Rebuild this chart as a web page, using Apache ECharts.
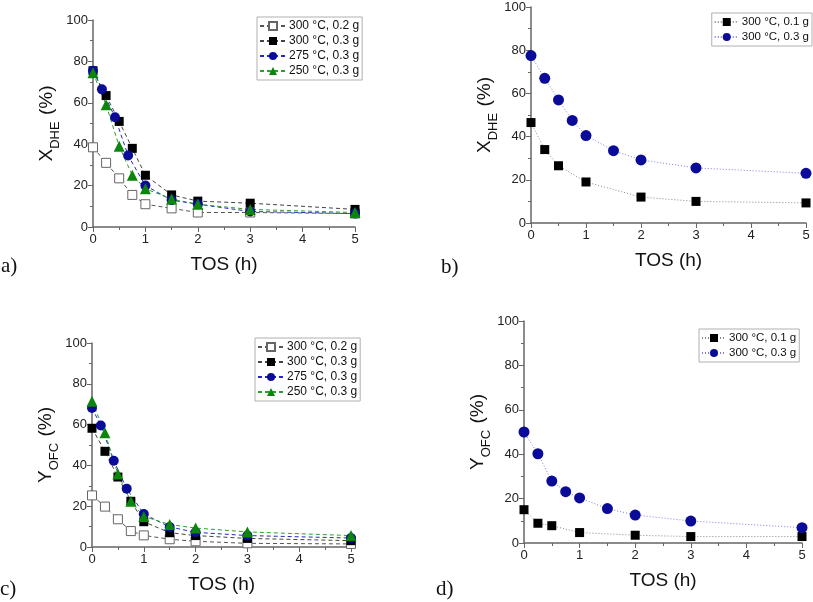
<!DOCTYPE html>
<html><head><meta charset="utf-8">
<script src="https://cdn.jsdelivr.net/npm/echarts@6/dist/echarts.min.js"></script>
<style>html,body{margin:0;padding:0;background:#fff}#c{width:813px;height:602px}</style>
</head><body><div id="c"></div>
<script>
// ---- data ----
const tos = [0, 0.25, 0.5, 0.75, 1, 1.5, 2, 3, 5];
const tosCircle = [0, 0.17, 0.42, 0.67, 1, 1.5, 2, 3, 5];
const tosShort = [0, 0.25, 0.5, 1, 2, 3, 5];
const xTicks = [0, 1, 2, 3, 4, 5];
const yTicks = [0, 20, 40, 60, 80, 100];

const legendAC = ['300 °C, 0.2 g', '300 °C, 0.3 g', '275 °C, 0.3 g', '250 °C, 0.3 g'];
const legendBD = ['300 °C, 0.1 g', '300 °C, 0.3 g'];

const aOpen  = [38.5, 31, 23.5, 15.5, 11, 9, 7, 7, 6.5];
const aBlack = [75.5, 63.5, 51, 38, 25, 15.5, 12.5, 11.5, 8.5];
const aBlue  = [75.5, 66.5, 53, 34.5, 20, 13, 11, 7.5, 6.5];
const aGreen = [74.5, 59, 39, 25, 18.5, 13.5, 11, 8.5, 7];

const bSquare = [46.5, 34, 26.5, 19, 12, 10, 9.3];
const bCircle = [77.5, 67, 57, 47.5, 40.5, 33.5, 29.2, 25.5, 23];

const cOpen  = [25.3, 19.8, 13.6, 7.8, 5.7, 3.8, 2.8, 1.8, 1.5];
const cBlack = [58.2, 46.9, 34.3, 22.4, 12.4, 7, 5.6, 4.2, 3.1];
const cBlue  = [68.1, 59.6, 42.3, 28.6, 16.2, 9.8, 7.2, 5.6, 4.4];
const cGreen = [71.4, 56, 35.8, 22.4, 15, 11, 9.3, 7.4, 5.6];

const dSquare = [15, 8.9, 7.8, 4.7, 3.5, 2.9, 2.9];
const dCircle = [50, 40.2, 27.9, 23.1, 20.3, 15.5, 12.6, 9.9, 6.9];

// ---- styling ----
const FONT = 'Liberation Sans, Arial, sans-serif';
const BLUE = '#0b0b99', GREEN = '#0c850c';
const zip = (xs, ys) => xs.map((x, i) => [x, ys[i]]);

const grids = [
  {left: 93, top: 20, width: 262, height: 207},
  {left: 531, top: 7, width: 275, height: 216},
  {left: 92, top: 343, width: 259, height: 204},
  {left: 524, top: 321, width: 278, height: 222}
];
const yNames = ['{m|X}{s|DHE}{m| (%)}', '{m|X}{s|DHE}{m| (%)}', '{m|Y}{s|OFC}{m| (%)}', '{m|Y}{s|OFC}{m| (%)}'];

const axisLine = {show: true, lineStyle: {color: '#666', width: 1.5}};
const xAxes = grids.map((g, i) => ({
  type: 'value', gridIndex: i, min: xTicks[0], max: xTicks[xTicks.length - 1], interval: 1,
  name: 'TOS (h)', nameLocation: 'middle', nameGap: 28,
  nameTextStyle: {fontFamily: FONT, fontSize: 19, color: '#111'},
  axisLine, axisTick: {show: true, length: 5, lineStyle: {color: '#666'}},
  minorTick: {show: true, splitNumber: 2, length: 3, lineStyle: {color: '#666'}},
  axisLabel: {fontFamily: FONT, fontSize: 13, color: '#222', margin: 6},
  splitLine: {show: false}
}));
const yAxes = grids.map((g, i) => ({
  type: 'value', gridIndex: i, min: yTicks[0], max: yTicks[yTicks.length - 1], interval: 20,
  name: yNames[i], nameLocation: 'middle', nameGap: 34,
  nameTextStyle: {rich: {
    m: {fontFamily: FONT, fontSize: 19, color: '#111'},
    s: {fontFamily: FONT, fontSize: 13, color: '#111', verticalAlign: 'bottom', padding: [0, 1, -6, 0]}
  }},
  axisLine, axisTick: {show: true, length: 5, lineStyle: {color: '#666'}},
  minorTick: {show: true, splitNumber: 2, length: 3, lineStyle: {color: '#666'}},
  axisLabel: {fontFamily: FONT, fontSize: 13, color: '#222', margin: 5},
  splitLine: {show: false}
}));

function ser(panel, idx, name, xs, ys, opt) {
  return Object.assign({
    type: 'line', name: panel + '|' + name, xAxisIndex: idx, yAxisIndex: idx,
    data: zip(xs, ys), z: 3
  }, opt);
}
const dash = [4, 3], dot = [1, 2];
const openSq = {symbol: 'rect', symbolSize: 9, itemStyle: {color: '#fff', borderColor: '#666', borderWidth: 1}, lineStyle: {color: '#555', type: dash, width: 1}};
const blackSqA = {symbol: 'rect', symbolSize: 9, itemStyle: {color: '#000'}, lineStyle: {color: '#444', type: dash, width: 1}};
const blueCA = {symbol: 'circle', symbolSize: 10, itemStyle: {color: BLUE}, lineStyle: {color: '#2626c8', type: dash, width: 1}};
const greenTA = {symbol: 'triangle', symbolSize: 11, itemStyle: {color: GREEN}, lineStyle: {color: '#27a327', type: dash, width: 1}};
const blackSqB = {symbol: 'rect', symbolSize: 9, itemStyle: {color: '#000'}, lineStyle: {color: '#888', type: dot, width: 1}};
const blueCB = {symbol: 'circle', symbolSize: 11, itemStyle: {color: BLUE}, lineStyle: {color: '#7f7fe0', type: dot, width: 1}};

const series = [
  ser('a', 0, legendAC[0], tos, aOpen, openSq),
  ser('a', 0, legendAC[1], tos, aBlack, blackSqA),
  ser('a', 0, legendAC[2], tosCircle, aBlue, blueCA),
  ser('a', 0, legendAC[3], tos, aGreen, greenTA),
  ser('b', 1, legendBD[0], tosShort, bSquare, blackSqB),
  ser('b', 1, legendBD[1], tos, bCircle, blueCB),
  ser('c', 2, legendAC[0], tos, cOpen, openSq),
  ser('c', 2, legendAC[1], tos, cBlack, blackSqA),
  ser('c', 2, legendAC[2], tosCircle, cBlue, blueCA),
  ser('c', 2, legendAC[3], tos, cGreen, greenTA),
  ser('d', 3, legendBD[0], tosShort, dSquare, blackSqB),
  ser('d', 3, legendBD[1], tos, dCircle, blueCB)
];

function legend(panel, names, pos, fs, iw) {
  return Object.assign({
    data: names.map(n => panel + '|' + n), orient: 'vertical',
    formatter: n => n.split('|')[1],
    borderColor: '#b0b0b0', borderWidth: 1, padding: [3, 3, 3, 2], itemGap: 3,
    itemWidth: iw, itemHeight: 10, selectedMode: false,
    textStyle: {fontFamily: FONT, fontSize: fs, color: '#111', padding: [0, 0, 0, -2]}
  }, pos);
}

const labelStyle = {fontFamily: 'Liberation Serif, Times New Roman, serif', fontSize: 21, fill: '#111'};
const option = {
  animation: false,
  backgroundColor: '#fff',
  grid: grids,
  xAxis: xAxes,
  yAxis: yAxes,
  legend: [
    legend('a', legendAC, {left: 257, top: 17}, 12, 26),
    legend('b', legendBD, {right: 1, top: 13}, 11.5, 24),
    legend('c', legendAC, {left: 255, top: 338}, 12, 26),
    legend('d', legendBD, {left: 699, top: 329}, 11.5, 24)
  ],
  graphic: [
    {type: 'text', left: 1, top: 256, style: Object.assign({text: 'a)'}, labelStyle)},
    {type: 'text', left: 441, top: 257, style: Object.assign({text: 'b)'}, labelStyle)},
    {type: 'text', left: 0, top: 579, style: Object.assign({text: 'c)'}, labelStyle)},
    {type: 'text', left: 436, top: 579, style: Object.assign({text: 'd)'}, labelStyle)}
  ],
  series
};
echarts.init(document.getElementById('c')).setOption(option);
</script></body></html>
